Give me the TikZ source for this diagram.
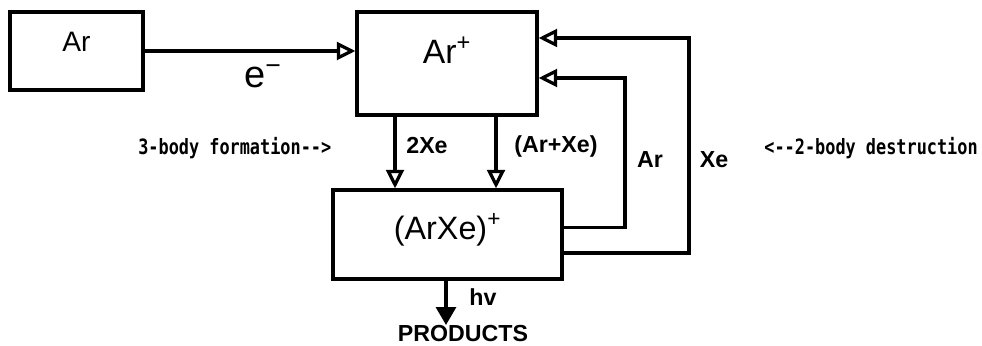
\documentclass[tikz,border=0pt]{standalone}
\usepackage{fontspec}
\setmainfont{Liberation Sans}
\newfontfamily\plotmono[FakeStretch=0.8]{DejaVu Sans Mono}
\usetikzlibrary{arrows.meta,positioning}
\tikzset{>={Triangle[open,length=4.6mm,width=4.4mm]},every node/.style={inner sep=0pt},
 box/.style={draw,line width=2.3pt,text height=5mm},flow/.style={->,line width=2.3pt},
 big/.style={font=\fontsize{23}{26}\selectfont},tag/.style={font=\fontsize{16.5}{19}\selectfont\bfseries},
 note/.style={font=\fontsize{15}{18}\selectfont\plotmono\bfseries}}

\begin{document}
\begin{tikzpicture}[x=0.25mm,y=-0.25mm]
\useasboundingbox (0,0) rectangle (982,346);
\node[box,big,font=\fontsize{20}{24}\selectfont,minimum width=33.25mm,minimum height=19.5mm,text depth=4.5mm] (ar) at (76.5,51) {Ar};
\node[box,big,font=\fontsize{24}{28}\selectfont,minimum width=45mm,minimum height=25.75mm,text height=6mm,text depth=6mm] (arp) at (447,63.5) {Ar\textsuperscript{+}};
\node[box,big,minimum width=57.25mm,minimum height=22.25mm,text height=6mm,text depth=3.5mm] (arxe) at (447.5,234.5) {(ArXe)\textsuperscript{+}};
\node[big,font=\fontsize{27}{30}\selectfont] (elec) at (263,76) {e\textsuperscript{\char"2212}};
\coordinate (c1) at (395,0);
\coordinate (c2) at (496,0);
\coordinate (c3) at (446,0);
\coordinate (arback) at (625,78);
\coordinate (xeback) at (689,38);
\node[tag] (twoxe) at (427,146) {2Xe};
\node[tag] (arxein) at (556,147) {(Ar+Xe)};
\node[tag] (arout) at (650,160) {Ar};
\node[tag] (xeout) at (714,160) {Xe};
\node[tag] (hv) at (483,297) {hv};
\node[tag,anchor=north] (prod) at (463,325) {PRODUCTS};
\node[note,anchor=west] (form) at (138,148) {3-body formation-->};
\node[note,anchor=east] (dest) at (978,148) {<--2-body destruction};
\draw[flow] (ar.east) -- (ar.east -| arp.west);
\draw[flow] (arp.south -| c1) -- (arxe.north -| c1);
\draw[flow] (arp.south -| c2) -- (arxe.north -| c2);
\draw[flow] ([yshift=1.75mm]arxe.east) -| (arback) -- (arback -| arp.east);
\draw[flow] ([yshift=-4.6mm]arxe.east) -| (xeback) -- (xeback -| arp.east);
\draw[line width=2.3pt,-{Triangle[length=4.5mm,width=5mm]}] (arxe.south -| c3) -- (prod.north -| c3);
\end{tikzpicture}
\end{document}
